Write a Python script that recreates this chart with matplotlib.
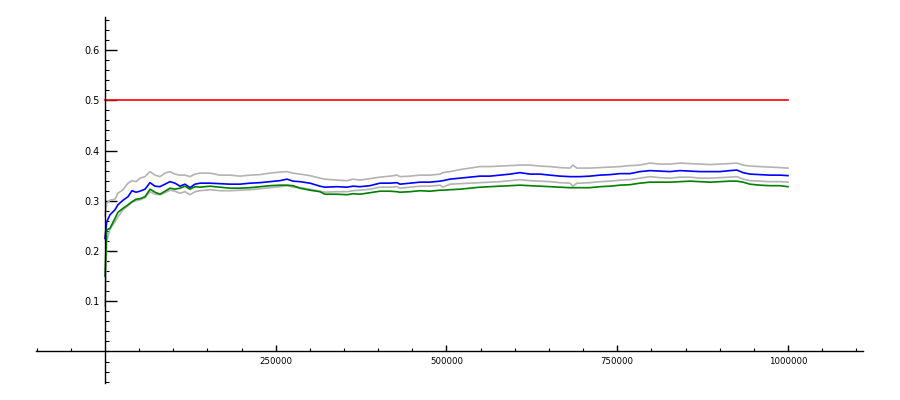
import matplotlib

matplotlib.use("Agg")
import matplotlib.pyplot as plt
import matplotlib.ticker as mtick

# sample positions (number of trials)
x_vals = [
    0, 2500, 7300, 14600, 19000, 26400, 33700, 39500, 45400, 51200,
    58600, 65900, 73200, 80500, 87800, 95200, 102500, 109800, 117100, 124400,
    131800, 139100, 153700, 168400, 183000, 197700, 212300, 226900, 241600, 256200,
    266500, 275300, 285500, 300100, 314800, 322100, 339700, 354300, 363100, 373300,
    388000, 402600, 417300, 427500, 431900, 446600, 461200, 475800, 490500, 494900,
    505100, 519800, 534400, 549000, 563700, 578300, 593000, 607600, 622200, 636900,
    651500, 666200, 680800, 685200, 691000, 695400, 710100, 724700, 739400, 754000,
    768700, 783300, 797900, 812600, 827200, 841900, 856500, 871100, 885800, 900400,
    915100, 925300, 934100, 944400, 959000, 973600, 988300, 1000000,
]

estimate = [
    0.225, 0.258, 0.272, 0.282, 0.292, 0.301, 0.308, 0.320, 0.317, 0.319,
    0.323, 0.336, 0.329, 0.328, 0.333, 0.338, 0.335, 0.329, 0.333, 0.326,
    0.333, 0.335, 0.335, 0.334, 0.333, 0.333, 0.335, 0.336, 0.338, 0.340,
    0.343, 0.339, 0.338, 0.335, 0.329, 0.327, 0.328, 0.327, 0.329, 0.328,
    0.330, 0.335, 0.335, 0.336, 0.333, 0.335, 0.337, 0.337, 0.339, 0.340,
    0.343, 0.345, 0.347, 0.349, 0.349, 0.351, 0.353, 0.356, 0.353, 0.353,
    0.351, 0.349, 0.348, 0.348, 0.348, 0.348, 0.349, 0.351, 0.352, 0.354,
    0.354, 0.358, 0.360, 0.359, 0.358, 0.360, 0.359, 0.358, 0.358, 0.358,
    0.360, 0.361, 0.356, 0.353, 0.352, 0.351, 0.351, 0.350,
]

upper_band = [
    0.270, 0.295, 0.301, 0.303, 0.315, 0.322, 0.335, 0.340, 0.338, 0.345,
    0.348, 0.358, 0.351, 0.348, 0.355, 0.358, 0.353, 0.351, 0.351, 0.348,
    0.353, 0.355, 0.355, 0.351, 0.351, 0.349, 0.351, 0.352, 0.355, 0.357,
    0.358, 0.355, 0.353, 0.350, 0.345, 0.343, 0.341, 0.340, 0.343, 0.341,
    0.344, 0.347, 0.349, 0.351, 0.348, 0.349, 0.351, 0.351, 0.353, 0.356,
    0.358, 0.362, 0.365, 0.368, 0.368, 0.369, 0.370, 0.371, 0.371, 0.369,
    0.368, 0.366, 0.365, 0.371, 0.365, 0.365, 0.365, 0.366, 0.367, 0.368,
    0.370, 0.371, 0.375, 0.373, 0.373, 0.375, 0.374, 0.373, 0.372, 0.373,
    0.374, 0.375, 0.371, 0.369, 0.368, 0.367, 0.366, 0.365,
]

lower_band = [
    0.090, 0.220, 0.243, 0.258, 0.268, 0.282, 0.290, 0.297, 0.300, 0.302,
    0.306, 0.318, 0.313, 0.312, 0.316, 0.321, 0.319, 0.315, 0.318, 0.312,
    0.318, 0.320, 0.322, 0.320, 0.320, 0.321, 0.322, 0.324, 0.326, 0.328,
    0.330, 0.327, 0.326, 0.323, 0.319, 0.317, 0.318, 0.318, 0.320, 0.321,
    0.323, 0.327, 0.327, 0.328, 0.325, 0.327, 0.329, 0.329, 0.331, 0.327,
    0.333, 0.334, 0.335, 0.336, 0.337, 0.338, 0.340, 0.342, 0.340, 0.339,
    0.338, 0.336, 0.335, 0.329, 0.335, 0.335, 0.336, 0.338, 0.339, 0.341,
    0.342, 0.345, 0.348, 0.346, 0.345, 0.347, 0.347, 0.345, 0.345, 0.346,
    0.347, 0.348, 0.343, 0.340, 0.339, 0.338, 0.338, 0.337,
]

observed = [
    0.150, 0.242, 0.245, 0.265, 0.277, 0.285, 0.292, 0.298, 0.303, 0.304,
    0.308, 0.323, 0.317, 0.313, 0.319, 0.325, 0.323, 0.325, 0.329, 0.323,
    0.328, 0.327, 0.329, 0.327, 0.325, 0.325, 0.326, 0.328, 0.330, 0.331,
    0.331, 0.330, 0.325, 0.321, 0.318, 0.313, 0.313, 0.312, 0.314, 0.313,
    0.316, 0.319, 0.319, 0.318, 0.317, 0.318, 0.320, 0.319, 0.321, 0.321,
    0.322, 0.323, 0.325, 0.327, 0.328, 0.329, 0.330, 0.331, 0.330, 0.329,
    0.328, 0.327, 0.326, 0.326, 0.326, 0.326, 0.326, 0.328, 0.329, 0.331,
    0.332, 0.335, 0.337, 0.337, 0.337, 0.338, 0.339, 0.338, 0.337, 0.338,
    0.339, 0.339, 0.337, 0.333, 0.331, 0.330, 0.330, 0.328,
]

target_x = [0, 1000000]
target_y = [0.5, 0.5]

x_major = [250000, 500000, 750000, 1000000]
y_major = [0.1, 0.2, 0.3, 0.4, 0.5, 0.6]

fig = plt.figure(figsize=(9, 4), dpi=100)
ax = fig.add_axes([0.04, 0.0425, 0.919, 0.915])

ax.plot(x_vals, upper_band, color="#b3b3b3", linewidth=1.2)
ax.plot(x_vals, lower_band, color="#b3b3b3", linewidth=1.2)
ax.plot(x_vals, estimate, color="blue", linewidth=1.2)
ax.plot(x_vals, observed, color="green", linewidth=1.2)
ax.plot(target_x, target_y, color="red", linewidth=1.2)

ax.set_xlim(-101000, 1110000)
ax.set_ylim(-0.0627, 0.6657)

# axes cross at the origin, Sage style
for side in ["top", "right"]:
    ax.spines[side].set_visible(False)
ax.spines["left"].set_position(("data", 0))
ax.spines["bottom"].set_position(("data", 0))
ax.spines["left"].set_linewidth(1.0)
ax.spines["bottom"].set_linewidth(1.0)

ax.xaxis.set_major_locator(mtick.FixedLocator(x_major))
ax.xaxis.set_minor_locator(mtick.MultipleLocator(50000))
ax.yaxis.set_major_locator(mtick.FixedLocator(y_major))
ax.yaxis.set_minor_locator(mtick.MultipleLocator(0.02))
ax.xaxis.set_major_formatter(mtick.FuncFormatter(lambda v, _: f"{int(v)}"))
ax.yaxis.set_major_formatter(mtick.FuncFormatter(lambda v, _: f"{v:.1f}"))

ax.tick_params(axis="x", which="major", direction="in", length=4, width=1, labelsize=6.2, pad=4)
ax.tick_params(axis="x", which="minor", direction="in", length=2, width=0.8)
ax.tick_params(axis="y", which="major", direction="in", length=8.5, width=1, labelsize=7, pad=4)
ax.tick_params(axis="y", which="minor", direction="in", length=3, width=0.8)

fig.savefig("out.png", dpi=100)
